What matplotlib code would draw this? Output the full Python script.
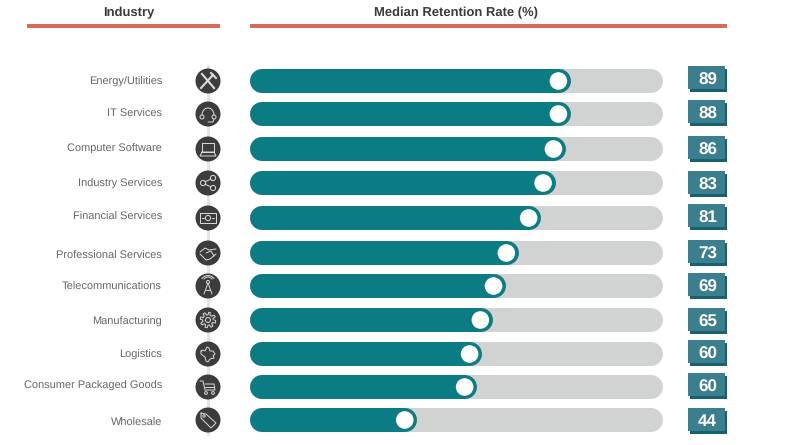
import numpy as np
import matplotlib
matplotlib.use('Agg')
import matplotlib.pyplot as plt
from matplotlib.patches import Circle, Rectangle, Polygon

plt.rcParams['font.family'] = ['Liberation Sans', 'DejaVu Sans']
plt.rcParams['text.hinting'] = 'no_hinting'
plt.rcParams['text.hinting_factor'] = 1

# Data
industries = ['Energy/Utilities', 'IT Services', 'Computer Software', 'Industry Services',
              'Financial Services', 'Professional Services', 'Telecommunications',
              'Manufacturing', 'Logistics', 'Consumer Packaged Goods', 'Wholesale']
values = [89, 88, 86, 83, 81, 73, 69, 65, 60, 60, 44]
# printed numbers and bar lengths are not on one scale, lengths are read as % of the grey track
fill_share = [77.7, 77.7, 76.5, 74.0, 70.5, 65.1, 62.0, 58.8, 56.2, 55.0, 40.5]
icons = ['tools', 'headset', 'laptop', 'share', 'money', 'hands', 'tower',
         'gear', 'map', 'cart', 'tag']

# Layout (pixels of the original picture)
rowY = [81, 114, 149, 183, 218, 253, 286, 320, 354, 387, 420]
labelY = [81, 113, 148, 183, 216, 255, 286, 321, 354, 385, 422]
boxY = [78, 112, 148, 183, 216, 252, 285, 320, 352, 385, 420]
trackL, trackR = 250, 663
barH = 24
iconX = 208

TEAL = '#0b7b84'
TRACK = '#d1d2d2'
RED = '#d9695a'
DARK = '#3c3c3e'
GLYPH = '#dcdcdc'

fig = plt.figure(figsize=(7.96, 4.45), dpi=100)
ax = fig.add_axes([0, 0, 1, 1])
ax.set_xlim(0, 796)
ax.set_ylim(445, 0)
ax.axis('off')
px = 72.0 / fig.dpi


def line(xs, ys, cx, cy, closed=False):
    xs = np.array(xs, dtype=float)
    ys = np.array(ys, dtype=float)
    if closed:
        xs = np.append(xs, xs[0])
        ys = np.append(ys, ys[0])
    ax.plot(cx + xs, cy + ys, color=GLYPH, lw=0.7, zorder=5, solid_capstyle='round')


def ring(x, y, r, cx, cy):
    ax.add_patch(Circle((cx + x, cy + y), r, fc='none', ec=GLYPH, lw=0.7, zorder=5))


def drawIcon(name, cx, cy):
    if name == 'tools':
        ax.plot([cx - 6, cx + 6], [cy - 7, cy + 7], color=GLYPH, lw=1.5, zorder=5)
        ax.plot([cx + 5, cx - 7], [cy - 6, cy + 7], color=GLYPH, lw=1.5, zorder=5)
        ax.plot([cx + 3, cx + 8], [cy - 8, cy - 3], color=GLYPH, lw=1.5, zorder=5)
    elif name == 'headset':
        t = np.linspace(np.pi, 2 * np.pi, 30)
        line(6 * np.cos(t), 1 + 7 * np.sin(t), cx, cy)
        ring(-6, 3, 2, cx, cy)
        ring(6, 3, 2, cx, cy)
        line([6, 5, 0], [5, 8, 8], cx, cy)
    elif name == 'laptop':
        line([-6, 6, 6, -6], [-6, -6, 3, 3], cx, cy, True)
        line([-6, 6, 8, -8], [3, 3, 7, 7], cx, cy, True)
    elif name == 'share':
        ring(-5, 0, 2.6, cx, cy)
        ring(5, -5, 2.6, cx, cy)
        ring(5, 5, 2.6, cx, cy)
        line([-3, 3], [-1.3, -3.8], cx, cy)
        line([-3, 3], [1.3, 3.8], cx, cy)
    elif name == 'money':
        line([-8, 8, 8, -8], [-5, -5, 5, 5], cx, cy, True)
        ring(0, 0, 2.6, cx, cy)
        line([-6, -4], [0, 0], cx, cy)
        line([4, 6], [0, 0], cx, cy)
    elif name == 'hands':
        line([-8, -3, 1, 8], [-1, -5, -3, -4], cx, cy)
        line([-8, -2, 2, 8], [1, 7, 6, 1], cx, cy)
        line([-2, 3, 6], [0, -2, 3], cx, cy)
    elif name == 'tower':
        line([-4, 0, 4], [8, -3, 8], cx, cy)
        line([-2, 2], [4, 4], cx, cy)
        ring(0, -4, 1.5, cx, cy)
        t = np.linspace(-0.8 * np.pi, -0.2 * np.pi, 20)
        line(5 * np.cos(t), -4 + 5 * np.sin(t), cx, cy)
        line(7.5 * np.cos(t), -3 + 7.5 * np.sin(t), cx, cy)
    elif name == 'gear':
        t = np.linspace(0, 2 * np.pi, 65)
        r = 6.5 + 1.3 * np.sign(np.sin(8 * t))
        line(r * np.cos(t), r * np.sin(t), cx, cy)
        ring(0, 0, 2.5, cx, cy)
    elif name == 'map':
        line([-7, -5, -3, -1, 1, 2, 5, 7, 5, 6, 2, 0, -2, -3, -7],
             [-3, -4, -3, -7, -6, -3, -3, 0, 2, 4, 5, 8, 7, 3, 0], cx, cy, True)
    elif name == 'cart':
        line([-8, -5, -3, 7, 6, -3], [-6, -6, 3, 3, -3, -3], cx, cy)
        line([-3, 6], [0, 0], cx, cy)
        ring(-2, 6, 1.4, cx, cy)
        ring(5, 6, 1.4, cx, cy)
    elif name == 'tag':
        line([-7, -2, 8, 3, -7], [-7, -6, 3, 8, -2], cx, cy, True)
        ring(-4, -4, 1.2, cx, cy)


# header text and red rules
ax.text(128.5, 13, 'Industry', ha='center', va='center', fontsize=9.5, fontweight='bold', color='#3a3a3a')
ax.text(456, 13, 'Median Retention Rate (%)', ha='center', va='center', fontsize=9.5,
        fontweight='bold', color='#3a3a3a')
ax.add_patch(Rectangle((27, 24), 193, 4, fc=RED, ec='none'))
ax.add_patch(Rectangle((250, 24), 477, 4, fc=RED, ec='none'))

# connector behind the icon circles
ax.plot([iconX, iconX], [66, 434], color='#e4e4e4', lw=3 * px, zorder=1)

for i, name in enumerate(industries):
    y = rowY[i]
    ax.text(162, labelY[i] + 1, name, ha='right', va='center', fontsize=7.6, color='#666666')

    # icon
    ax.add_patch(Circle((iconX, y), 12.5, fc=DARK, ec='none', zorder=2))
    drawIcon(icons[i], iconX, y)

    # track and fill, round caps add half the bar height at each end
    fillEnd = trackL + fill_share[i] / 100.0 * (trackR - trackL)
    ax.plot([trackL + barH / 2, trackR - barH / 2], [y, y], color=TRACK, lw=barH * px,
            solid_capstyle='round', zorder=2)
    ax.plot([trackL + barH / 2, fillEnd - barH / 2], [y, y], color=TEAL, lw=barH * px,
            solid_capstyle='round', zorder=3)
    ax.add_patch(Circle((fillEnd - 12.5, y), 8.8, fc='white', ec='none', zorder=4))

    # value box with its shadow
    by = boxY[i]
    ax.add_patch(Polygon([[690, by - 9], [727, by - 9], [727, by + 14], [690, by + 14]],
                         closed=True, fc='#17616e', ec='none', zorder=2))
    ax.add_patch(Rectangle((688, by - 12), 37, 23, fc='#3b7f8e', ec='none', zorder=3))
    ax.text(707.5, by + 2, str(values[i]), ha='center', va='center', fontsize=12, fontweight='bold',
            color='white', zorder=4)

fig.savefig('out.png', dpi=100)
